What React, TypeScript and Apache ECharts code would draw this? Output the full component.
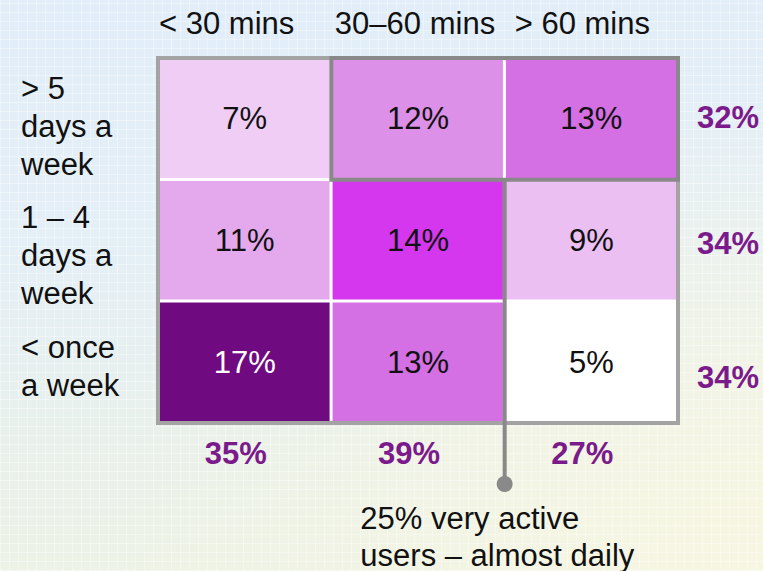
import React, { useEffect, useRef } from "react";
import * as echarts from "echarts";

// Session length (columns) by visit frequency (rows), share of users in %
const durations = ["< 30 mins", "30–60 mins", "> 60 mins"];
const frequencies = ["> 5\ndays a\nweek", "1 – 4\ndays a\nweek", "< once\na week"];
const sharesByFrequency = [
  [7, 12, 13],
  [11, 14, 9],
  [17, 13, 5],
];
const rowTotals = [32, 34, 34];
const colTotals = [35, 39, 27];
const shadeValues = [5, 7, 9, 11, 12, 13, 14, 17];
const shadeColors = ["#ffffff", "#f0cdf4", "#ebbff2", "#e4a9ed", "#dc90e8", "#d56fe4", "#d437ed", "#700a80"];
const calloutLines = ["25% very active", "users – almost daily"];

const FONT = "'Liberation Sans', Arial, Helvetica, sans-serif";
const TOTAL_COLOR = "#7b1a8b";

// per-label nudges (px) relative to the column / row centre
const durationDx = [-18, -3, -9];
const frequencyDy = [8, 15, 4];
const rowTotalDy = [-1, 3, 15];
const colTotalDx = -9;

export default function App() {
  const ref = useRef<HTMLDivElement>(null);

  useEffect(() => {
    document.body.style.margin = "0";
    if (!ref.current) return;
    const chart = echarts.init(ref.current, undefined, { renderer: "svg" });

    const cells: any[] = [];
    sharesByFrequency.forEach((row, r) =>
      row.forEach((v, c) => {
        cells.push({
          value: [c, r, v],
          label: { color: v >= 17 ? "#ffffff" : "#111111" },
        });
      })
    );

    const hiddenAxis = {
      axisLine: { show: false },
      axisTick: { show: false },
      splitLine: { show: false },
      axisLabel: { show: false },
    };

    chart.setOption({
      animation: false,
      backgroundColor: "transparent",
      textStyle: { fontFamily: FONT },
      grid: { left: 158, right: 85, top: 58, bottom: 148, outerBoundsMode: "none" },
      xAxis: { type: "category", data: durations, position: "top", ...hiddenAxis },
      yAxis: { type: "category", data: frequencies, inverse: true, ...hiddenAxis },
      visualMap: {
        type: "piecewise",
        show: false,
        dimension: 2,
        seriesIndex: 0,
        pieces: shadeValues.map((v, i) => ({ value: v, color: shadeColors[i] })),
      },
      series: [
        {
          type: "heatmap",
          data: cells,
          itemStyle: { borderColor: "#ffffff", borderWidth: 3 },
          label: {
            show: true,
            fontSize: 31,
            fontFamily: FONT,
            formatter: (p: any) => p.value[2] + "%",
          },
          emphasis: { disabled: true },
        },
      ],
    });

    // labels, frame, highlighted block and callout, placed from the axis scales
    const colX = durations.map((_, i) => (chart.convertToPixel({ gridIndex: 0 }, [i, 0]) as number[])[0]);
    const rowY = frequencies.map((_, j) => (chart.convertToPixel({ gridIndex: 0 }, [0, j]) as number[])[1]);
    const cw = colX[1] - colX[0];
    const ch = rowY[1] - rowY[0];
    const left = colX[0] - cw / 2;
    const right = colX[2] + cw / 2;
    const top = rowY[0] - ch / 2;
    const bottom = rowY[2] + ch / 2;
    const col1 = left + cw;
    const col2 = left + 2 * cw;
    const row1 = top + ch;
    const dotY = bottom + 61;

    const text = (x: number, y: number, str: string, extra: any = {}) => ({
      type: "text",
      z: 102,
      x,
      y,
      silent: true,
      style: {
        text: str,
        font: `31px ${FONT}`,
        fill: "#111111",
        align: "center",
        verticalAlign: "middle",
        ...extra,
      },
    });

    const labels: any[] = [
      ...durations.map((d, i) => text(colX[i] + durationDx[i], top - 35, d)),
      ...frequencies.map((f, j) =>
        text(21, rowY[j] + frequencyDy[j], f, { align: "left", lineHeight: 38 })
      ),
      ...rowTotals.map((v, j) =>
        text(right + 19, rowY[j] + rowTotalDy[j], v + "%", {
          align: "left",
          font: `bold 31px ${FONT}`,
          fill: TOTAL_COLOR,
        })
      ),
      ...colTotals.map((v, i) =>
        text(colX[i] + colTotalDx, bottom + 30, v + "%", {
          font: `bold 31px ${FONT}`,
          fill: TOTAL_COLOR,
        })
      ),
      ...calloutLines.map((line, k) =>
        text(col1 + 29, dotY + 34 + k * 37, line, { align: "left" })
      ),
    ];

    chart.setOption({
      graphic: [
        {
          type: "rect",
          z: 100,
          shape: { x: left, y: top, width: right - left, height: bottom - top },
          style: { fill: "none", stroke: "#a3a3a3", lineWidth: 4 },
          silent: true,
        },
        {
          type: "rect",
          z: 101,
          shape: { x: col1, y: top, width: right - col1, height: row1 - top },
          style: { fill: "none", stroke: "#898989", lineWidth: 4 },
          silent: true,
        },
        {
          type: "line",
          z: 101,
          shape: { x1: col2, y1: row1, x2: col2, y2: dotY },
          style: { stroke: "#898989", lineWidth: 4 },
          silent: true,
        },
        {
          type: "circle",
          z: 102,
          shape: { cx: col2, cy: dotY, r: 8 },
          style: { fill: "#898989" },
          silent: true,
        },
        ...labels,
      ],
    });

    return () => chart.dispose();
  }, []);

  return (
    <div
      style={{
        position: "absolute",
        left: 0,
        top: 0,
        width: 763,
        height: 571,
        background: [
          "repeating-linear-gradient(0deg, rgba(255,255,255,0.35) 0px, rgba(255,255,255,0.35) 1px, transparent 1px, transparent 9px)",
          "repeating-linear-gradient(90deg, rgba(255,255,255,0.35) 0px, rgba(255,255,255,0.35) 1px, transparent 1px, transparent 9px)",
          "radial-gradient(ellipse at 100% 100%, rgba(247,246,226,1) 0%, rgba(247,246,226,0) 60%)",
          "linear-gradient(175deg, #e1edf9 0%, #e4eff6 40%, #eaf1ea 75%, #eff3e4 100%)",
        ].join(", "),
      }}
    >
      <div ref={ref} style={{ width: 763, height: 571 }} />
    </div>
  );
}
